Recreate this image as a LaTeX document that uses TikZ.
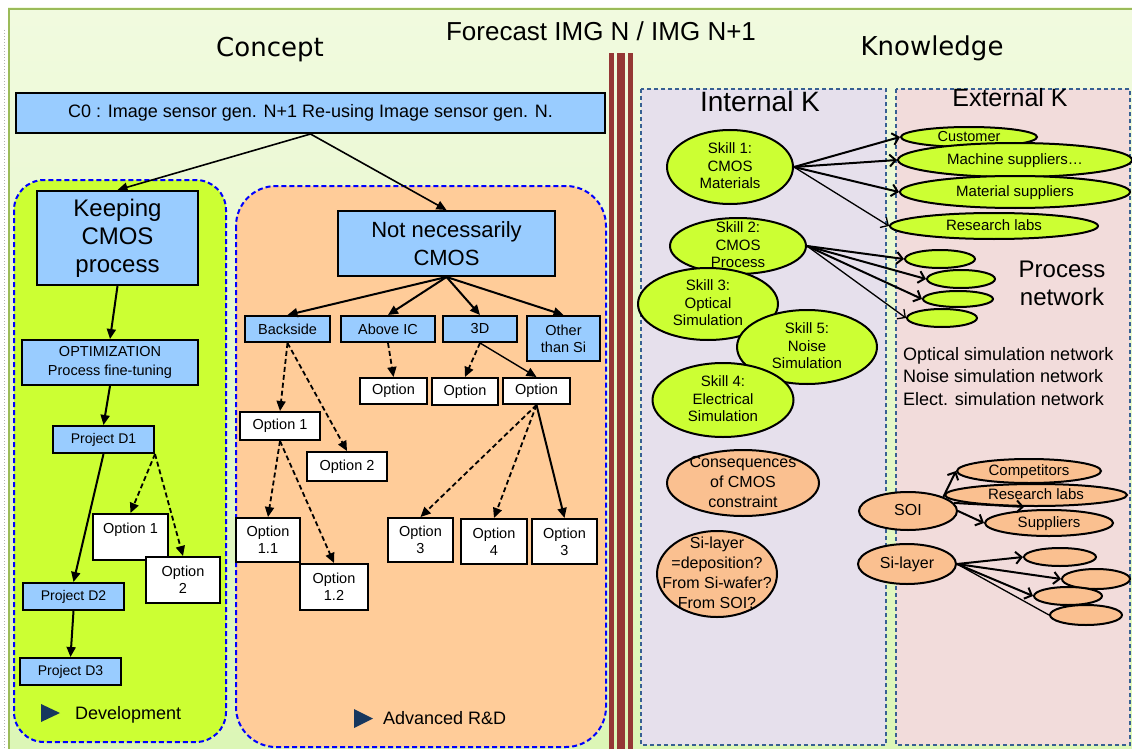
\documentclass[tikz,border=0pt]{standalone}
\usepackage{fontspec}
\setmainfont{Liberation Sans}
\newfontfamily\dejavu{DejaVu Sans}
\usetikzlibrary{arrows.meta,shapes.geometric,calc}
\definecolor{bluebox}{HTML}{99CCFF}
\definecolor{limeg}{HTML}{CCFF33}
\definecolor{orreg}{HTML}{FFCC99}
\definecolor{orell}{HTML}{FAC090}
\definecolor{intk}{HTML}{E6E0EC}
\definecolor{extk}{HTML}{F2DCDB}
\definecolor{panelb}{HTML}{376092}
\definecolor{brownbar}{HTML}{953735}
\definecolor{tri}{HTML}{17375E}
\definecolor{bgtop}{HTML}{F1FADF}
\definecolor{bgbot}{HTML}{DCF6B6}
\definecolor{gline}{HTML}{9BBB59}
\newcommand{\fs}[2]{\fontsize{#1}{#2}\selectfont}
\newcommand{\zt}[1]{\makebox[0pt]{\raisebox{-0.3em}[0pt][0pt]{\begin{tabular}{@{}c@{}}#1\end{tabular}}}}
\begin{document}
\begin{tikzpicture}[x=1pt,y=-1pt,
 box/.style={draw=black,line width=2pt,fill=bluebox,inner sep=0pt,align=center},
 wbox/.style={draw=black,line width=2pt,fill=white,inner sep=0pt,align=center,font=\fs{14.5}{17}},
 gell/.style={ellipse,draw=black,line width=2pt,fill=limeg,inner sep=0pt},
 oell/.style={ellipse,draw=black,line width=2pt,fill=orell,inner sep=0pt},
 sz/.style 2 args={minimum width=#1pt,minimum height=#2pt},
 arr/.style={line width=2pt,-{Triangle[length=10pt,width=9pt]}},
 darr/.style={line width=1.8pt,dash pattern=on 5pt off 3pt,-{Triangle[length=10pt,width=9pt]}},
 oarr/.style={line width=2pt,-{Straight Barb[length=6pt,width=12pt]}},
 region/.style={draw=blue,line width=2pt,dash pattern=on 5pt off 3pt},
 panel/.style={draw=panelb,line width=1.6pt,dash pattern=on 4pt off 3pt},
]
\useasboundingbox (0,0) rectangle (1132,749);
% background
\fill[white] (0,0) rectangle (1132,749);
\shade[top color=bgtop,bottom color=bgbot] (8,8) rectangle (1132,749);
\draw[gline,line width=2pt] (9,749) -- (9,9) -- (1132,9);
\draw[gray!60,dotted,line width=1pt] (4,30) -- (4,749);
% brown separator
\fill[brownbar] (609,53) rectangle (614,749);
\fill[brownbar] (617,53) rectangle (625,749);
\fill[brownbar] (628,53) rectangle (633,749);
% titles
\node[anchor=base,font=\dejavu\fs{26}{30}] (tconcept) at (270,57) {Concept};
\node[anchor=base,font=\fs{26}{30}] (tforecast) at (601,41) {Forecast IMG N / IMG N+1};
\node[anchor=base,font=\dejavu\fs{26}{30}] (tknow) at (932,56) {Knowledge};
% regions
\draw[region,fill=limeg,rounded corners=30pt] (14,180) rectangle (226,742);
\draw[region,fill=orreg,rounded corners=40pt] (236,186) rectangle (606,747);
% left tree
\node[box,sz={589}{40},font=\fs{18}{21}] (c0) at (310.5,113) {C0 : Image sensor gen. N+1 Re-using Image sensor gen. N.};
\node[box,sz={161}{94},font=\fs{24}{28}] (keep) at (117.5,238) {Keeping\\CMOS\\process};
\node[box,sz={176}{45},font=\fs{14.5}{19}] (optim) at (110,362.5) {OPTIMIZATION\\Process fine-tuning};
\node[box,sz={101}{27},font=\fs{14}{17}] (d1) at (103.5,439.5) {Project D1};
\node[wbox,sz={75}{46}] (lopt1) at (130.5,537) {Option 1\\\mbox{}};
\node[wbox,sz={74}{46}] (lopt2) at (183,580) {Option\\2};
\node[box,sz={101}{27},font=\fs{14}{17}] (d2) at (73.5,596.5) {Project D2};
\node[box,sz={101}{27},font=\fs{14}{17}] (d3) at (70.5,671.5) {Project D3};
\fill[tri] (41,704) -- (41,722) -- (60,713) -- cycle;
\node[anchor=base west,font=\fs{18}{22},inner sep=0pt] (dev) at (75,719) {Development};
% orange tree
\node[box,sz={217}{65},font=\fs{22}{28}] (nnc) at (446.5,243.5) {Not necessarily\\CMOS};
\node[box,sz={85}{26},font=\fs{14.5}{17}] (back) at (287.5,329) {Backside};
\node[box,sz={94}{26},font=\fs{14.5}{17}] (above) at (388,329) {Above IC};
\node[box,sz={74}{26},font=\fs{14.5}{17}] (d3d) at (480,329) {3D};
\node[box,sz={73}{45},font=\fs{14.5}{17}] (other) at (563.5,338.5) {Other\\than Si};
\node[wbox,sz={67}{26}] (optA) at (393.5,391) {Option};
\node[wbox,sz={66}{27}] (optB) at (465,391.5) {Option};
\node[wbox,sz={67}{26}] (optC) at (536.5,391) {Option};
\node[wbox,sz={80}{28}] (bopt1) at (280,426) {Option 1};
\node[wbox,sz={80}{29}] (bopt2) at (347,466.5) {Option 2};
\node[wbox,sz={64}{44}] (o11) at (268,540) {Option\\1.1};
\node[wbox,sz={68}{46}] (o12) at (334,587) {Option\\1.2};
\node[wbox,sz={65}{44}] (o3l) at (420.5,540) {Option\\3};
\node[wbox,sz={66}{45}] (o4) at (494,541.5) {Option\\4};
\node[wbox,sz={65}{45}] (o3r) at (564.5,541.5) {Option\\3};
\fill[tri] (354,709) -- (354,728) -- (373,718.5) -- cycle;
\node[anchor=base west,font=\fs{18}{22},inner sep=0pt] (ard) at (383,724) {Advanced R\&D};
% left arrows
\draw[arr,line width=1.6pt] (c0.south) -- (keep.north);
\draw[arr,line width=1.6pt] (c0.south) -- (nnc.north);
\draw[arr] (keep.south) -- (optim.north);
\draw[arr] (optim.south) -- (d1.north);
\draw[arr] (d1.south) -- (d2.north);
\draw[darr] (d1.south east) -- (lopt1.north);
\draw[darr] (d1.south east) -- (lopt2.north);
\draw[arr] (d2.south) -- (d3.north);
% orange arrows
\draw[arr] (nnc.south) -- (back.north);
\draw[arr] (nnc.south) -- (above.north);
\draw[arr] (nnc.south) -- (d3d.north);
\draw[arr] (nnc.south) -- (other.north);
\draw[darr] (back.south) -- (bopt1.north);
\draw[darr] (back.south) -- (bopt2.north);
\draw[darr] (above.south) -- (optA.north);
\draw[darr] (d3d.south) -- (optB.north);
\draw[arr,line width=1.4pt] (d3d.south) -- (optC.north);
\draw[darr] (bopt1.south) -- (o11.north);
\draw[darr] (bopt1.south) -- (o12.north);
\draw[darr] (optC.south) -- (o3l.north);
\draw[darr] (optC.south) -- (o4.north);
\draw[arr] (optC.south) -- (o3r.north);
% right panels
\draw[panel,fill=intk] (641,89) rectangle (886,745);
\draw[panel,fill=extk] (896,89) rectangle (1130,745);
\node[anchor=base,font=\fs{28}{32}] (tint) at (760,112) {Internal K};
\node[anchor=base,font=\fs{25}{30}] (text) at (1010,107) {External K};
% skills
\node[gell,sz={126}{74},font=\fs{15}{17.5}] (s1) at (730,167) {\zt{Skill 1:\\CMOS\\Materials}};
\node[gell,sz={136}{56},font=\fs{15}{17.5}] (s2) at (738,246) {\zt{Skill 2:\\CMOS\\Process}};
\node[gell,sz={140}{72},font=\fs{15}{17.5}] (s3) at (708,304) {\zt{Skill 3:\\Optical\\Simulation}};
\node[gell,sz={140}{74},font=\fs{15}{17.5}] (s5) at (807,347) {\zt{Skill 5:\\Noise\\Simulation}};
\node[gell,sz={141}{74},font=\fs{15}{17.5}] (s4) at (723,400) {\zt{Skill 4:\\Electrical\\Simulation}};
% external green
\node[gell,sz={136}{20},font=\fs{14.5}{17}] (cust) at (969,137) {\zt{Customer}};
\node[gell,sz={234}{34},font=\fs{15}{17}] (mach) at (1015,160) {\zt{Machine suppliers…}};
\node[gell,sz={230}{32},font=\fs{15}{17}] (mat) at (1015,192) {\zt{Material suppliers}};
\node[gell,sz={208}{26},font=\fs{15}{17}] (rlab) at (994,226) {\zt{Research labs}};
\node[gell,sz={70}{18}] (pe1) at (940,259) {};
\node[gell,sz={68}{18}] (pe2) at (961,279) {};
\node[gell,sz={70}{16}] (pe3) at (958,299) {};
\node[gell,sz={70}{18}] (pe4) at (942,318) {};
\node[font=\fs{24}{28},align=center] (pnet) at (1062,283) {Process\\network};
\node[anchor=base west,font=\fs{18}{22},inner sep=0pt] (n1) at (903,360) {Optical simulation network};
\node[anchor=base west,font=\fs{18}{22},inner sep=0pt] (n2) at (903,382) {Noise simulation network};
\node[anchor=base west,font=\fs{18}{22},inner sep=0pt] (n3) at (903,405) {Elect. simulation network};
\draw[oarr] (s1.east) -- (cust.west);
\draw[oarr] (s1.east) -- (mach.west);
\draw[oarr] (s1.east) -- (mat.west);
\draw[oarr,line width=1.3pt] (s1.east) -- (rlab.west);
\draw[oarr] (s2.east) -- (pe1.west);
\draw[oarr] (s2.east) -- (pe2.west);
\draw[oarr] (s2.east) -- (pe3.west);
\draw[oarr,line width=1.3pt] (s2.east) -- (pe4.west);
% orange ellipses
\node[oell,sz={152}{66},font=\fs{16}{20}] (cons) at (743,483) {\zt{Consequences\\of CMOS\\constraint}};
\node[oell,sz={120}{86},font=\fs{16}{20}] (siq) at (717,574) {\zt{Si-layer\\=deposition?\\From Si-wafer?\\From SOI?}};
\node[oell,sz={144}{24},font=\fs{15}{17}] (comp) at (1029,471) {\zt{Competitors}};
\node[oell,sz={182}{22},font=\fs{15}{17}] (rlab2) at (1036,495) {\zt{Research labs}};
\node[oell,sz={128}{26},font=\fs{15}{17}] (supp) at (1049,523) {\zt{Suppliers}};
\node[oell,sz={98}{38},font=\fs{16}{18}] (soi) at (908,511) {\zt{SOI}};
\node[oell,sz={98}{40},font=\fs{16}{18}] (sil) at (907,564) {\zt{Si-layer}};
\node[oell,sz={72}{18}] (oe1) at (1060,557) {};
\node[oell,sz={68}{20}] (oe2) at (1096,579) {};
\node[oell,sz={68}{18}] (oe3) at (1068,596) {};
\node[oell,sz={72}{20}] (oe4) at (1086,615) {};
\draw[oarr] (soi.north east) -- (comp.west);
\draw[oarr] (soi.10) -- (rlab2.225);
\draw[oarr] (soi.east) -- (supp.west);
\draw[oarr] (sil.east) -- (oe1.west);
\draw[oarr] (sil.east) -- (oe2.west);
\draw[oarr] (sil.east) -- (oe3.west);
\draw[line width=1.3pt] (sil.east) -- (oe4.west);
\end{tikzpicture}
\end{document}
